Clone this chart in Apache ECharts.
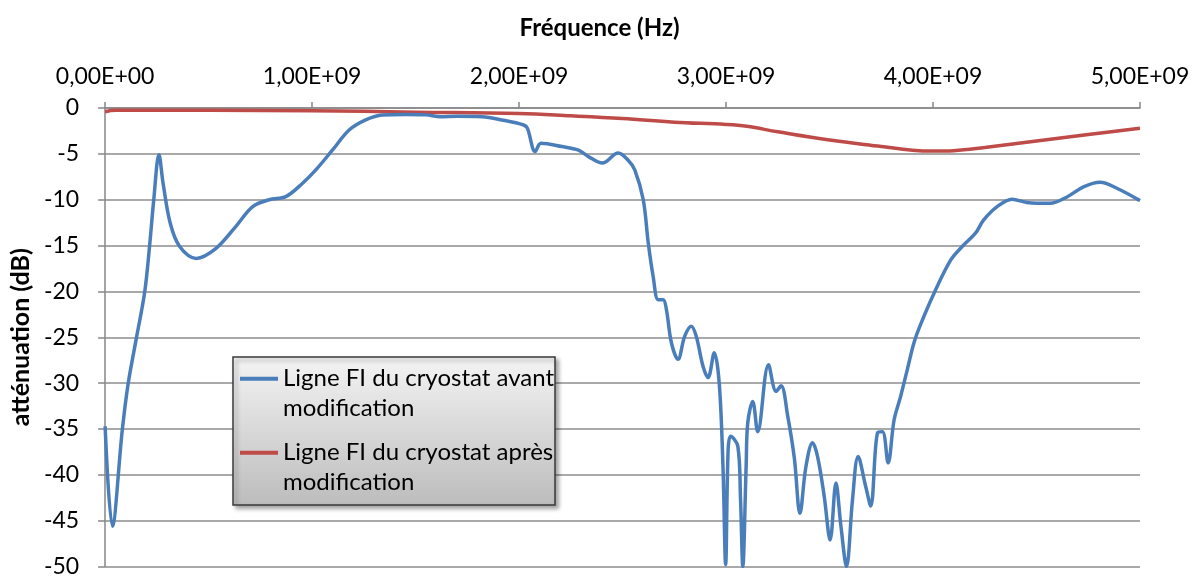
<!DOCTYPE html>
<html>
<head>
<meta charset="utf-8">
<script src="https://cdn.jsdelivr.net/npm/echarts@6/dist/echarts.min.js"></script>
<style>
  html, body { margin: 0; padding: 0; background: #ffffff; }
  #chart { width: 1201px; height: 578px; }
</style>
</head>
<body>
<div id="chart"></div>
<script>
// Series names (legend)
const seriesNames = [
  'Ligne FI du cryostat avant\nmodification',
  'Ligne FI du cryostat après\nmodification'
];

// FI line before modification: frequency (Hz) and attenuation (dB)
const freqAvant = [
  0.000e9, 0.035e9, 0.083e9, 0.111e9, 0.151e9, 0.191e9, 0.215e9, 0.235e9, 0.260e9, 0.280e9,
  0.315e9, 0.360e9, 0.440e9, 0.536e9, 0.632e9, 0.713e9, 0.793e9, 0.873e9, 0.954e9, 1.018e9,
  1.098e9, 1.179e9, 1.259e9, 1.339e9, 1.450e9, 1.550e9, 1.620e9, 1.700e9, 1.820e9, 1.917e9,
  2.022e9, 2.040e9, 2.078e9, 2.106e9, 2.206e9, 2.287e9, 2.335e9, 2.402e9, 2.479e9, 2.527e9,
  2.559e9, 2.600e9, 2.624e9, 2.648e9, 2.672e9, 2.696e9, 2.712e9, 2.736e9, 2.768e9, 2.800e9,
  2.832e9, 2.856e9, 2.889e9, 2.913e9, 2.943e9, 2.967e9, 2.985e9, 2.998e9, 3.010e9, 3.022e9,
  3.057e9, 3.070e9, 3.081e9, 3.097e9, 3.105e9, 3.129e9, 3.153e9, 3.205e9, 3.242e9, 3.266e9,
  3.298e9, 3.330e9, 3.357e9, 3.386e9, 3.418e9, 3.442e9, 3.474e9, 3.503e9, 3.531e9, 3.555e9,
  3.582e9, 3.611e9, 3.638e9, 3.675e9, 3.699e9, 3.732e9, 3.756e9, 3.783e9, 3.812e9, 3.844e9,
  3.876e9, 3.908e9, 3.940e9, 4.005e9, 4.085e9, 4.141e9, 4.205e9, 4.245e9, 4.310e9, 4.382e9,
  4.454e9, 4.566e9, 4.647e9, 4.727e9, 4.807e9, 4.888e9, 5.000e9
];
const attAvant = [
  -34.7, -45.6, -35.1, -30.1, -25.1, -20.1, -15.0, -10.0, -5.1, -8.2,
  -12.6, -15.1, -16.4, -15.3, -12.9, -10.75, -10.0, -9.66, -8.2, -6.75,
  -4.6, -2.4, -1.3, -0.76, -0.7, -0.75, -0.95, -0.9, -0.95, -1.3,
  -1.85, -2.2, -4.75, -3.85, -4.2, -4.6, -5.3, -6.0, -4.9, -5.7,
  -6.75, -10.0, -14.7, -18.4, -20.9, -20.9, -22.0, -25.6, -27.4, -24.9,
  -23.8, -24.9, -28.2, -29.4, -26.7, -30.0, -39.0, -49.8, -37.3, -35.8,
  -36.9, -42.7, -50.0, -39.1, -34.3, -32.0, -35.3, -28.0, -30.9, -30.3,
  -33.6, -38.2, -44.2, -39.1, -36.5, -38.0, -42.3, -47.1, -40.9, -45.6,
  -50.0, -42.7, -38.0, -41.3, -43.4, -35.4, -35.3, -38.7, -34.0, -31.4,
  -28.5, -25.6, -23.6, -20.2, -16.6, -15.1, -13.65, -12.2, -10.75, -9.95,
  -10.3, -10.4, -9.7, -8.6, -8.1, -8.75, -10.1
];

// FI line after modification: frequency (Hz) and attenuation (dB)
const freqApres = [
  0.00e9, 0.05e9, 0.50e9, 1.00e9, 1.50e9, 2.00e9, 2.25e9, 2.50e9, 2.75e9, 3.00e9,
  3.10e9, 3.25e9, 3.50e9, 3.75e9, 3.90e9, 4.00e9, 4.10e9, 4.25e9, 4.50e9, 4.75e9, 5.00e9
];
const attApres = [
  -0.4, -0.25, -0.25, -0.3, -0.45, -0.6, -0.85, -1.15, -1.55, -1.8,
  -2.0, -2.6, -3.5, -4.2, -4.6, -4.7, -4.65, -4.3, -3.6, -2.9, -2.2
];

// Axis tick settings
const freqTicks = { min: 0, max: 5e9, interval: 1e9 };
const attTicks = { min: -50, max: 0, interval: 5 };

const FONT = 'Lato, "Open Sans", sans-serif';

function sciComma(v) {
  if (v === 0) return '0,00E+00';
  const e = Math.floor(Math.log10(Math.abs(v)) + 1e-9);
  const m = v / Math.pow(10, e);
  return m.toFixed(2).replace('.', ',') + 'E' + (e >= 0 ? '+' : '-') + String(Math.abs(e)).padStart(2, '0');
}

const pairs = (xs, ys) => xs.map((x, i) => [x, ys[i]]);

const chart = echarts.init(document.getElementById('chart'), null, { renderer: 'canvas' });

const axisGray = '#868686';

// Legend key: a short bar at the top of a taller box, so it lines up with the first text line
const legendKey = 'path://M0,0 L40,0 L40,4 L0,4 Z M0,34';

chart.setOption({
  animation: false,
  backgroundColor: '#ffffff',
  grid: { left: 102, right: 61, top: 108, bottom: 11, containLabel: false },
  xAxis: {
    type: 'value',
    position: 'top',
    min: freqTicks.min, max: freqTicks.max, interval: freqTicks.interval,
    name: 'Fréquence (Hz)',
    nameLocation: 'middle',
    nameGap: 68,
    nameTextStyle: { fontFamily: FONT, fontSize: 24, fontWeight: 'bold', color: '#000', padding: [0, 46, 0, 0] },
    axisLine: { show: true, lineStyle: { color: axisGray, width: 1.5 } },
    axisTick: { show: true, inside: false, length: 6, lineStyle: { color: axisGray, width: 1.5 } },
    axisLabel: { fontFamily: FONT, fontSize: 23, color: '#000', margin: 20, formatter: sciComma },
    splitLine: { show: false }
  },
  yAxis: {
    type: 'value',
    min: attTicks.min, max: attTicks.max, interval: attTicks.interval,
    name: 'atténuation (dB)',
    nameLocation: 'middle',
    nameRotate: 90,
    nameGap: 67,
    nameTextStyle: { fontFamily: FONT, fontSize: 25, fontWeight: 'bold', color: '#000' },
    axisLine: { show: true, onZero: false, lineStyle: { color: axisGray, width: 1.5 } },
    axisTick: { show: true, inside: false, length: 7, lineStyle: { color: axisGray, width: 1.5 } },
    axisLabel: { fontFamily: FONT, fontSize: 23, color: '#000', margin: 26 },
    splitLine: { show: true, lineStyle: { color: '#8c8c8c', width: 1.5 } }
  },
  legend: {
    orient: 'vertical',
    left: 233,
    top: 357,
    z: 10,
    padding: [6, 8, 8, 7],
    itemGap: 14,
    itemWidth: 38,
    itemHeight: 34,
    icon: legendKey,
    itemStyle: { borderWidth: 0 },
    textStyle: { fontFamily: FONT, fontSize: 24, color: '#000', lineHeight: 30 },
    data: seriesNames
  },
  graphic: [{
    type: 'rect',
    z: 8,
    shape: { x: 233, y: 357, width: 322, height: 148 },
    style: {
      fill: new echarts.graphic.LinearGradient(0, 0, 0, 1, [
        { offset: 0, color: '#f4f4f4' },
        { offset: 1, color: '#bcbcbc' }
      ]),
      stroke: '#3a3a3a',
      lineWidth: 1.5,
      shadowBlur: 4,
      shadowOffsetX: 3,
      shadowOffsetY: 3,
      shadowColor: 'rgba(0,0,0,0.35)'
    }
  }],
  series: [
    {
      name: seriesNames[0],
      type: 'line',
      data: pairs(freqAvant, attAvant),
      smooth: 0.35,
      showSymbol: false,
      symbol: 'none',
      color: '#4a7ebb',
      lineStyle: { color: '#4a7ebb', width: 3.5 },
      z: 3
    },
    {
      name: seriesNames[1],
      type: 'line',
      data: pairs(freqApres, attApres),
      smooth: 0.4,
      showSymbol: false,
      symbol: 'none',
      color: '#be4b48',
      lineStyle: { color: '#be4b48', width: 3.5 },
      z: 2
    }
  ]
});
</script>
</body>
</html>
